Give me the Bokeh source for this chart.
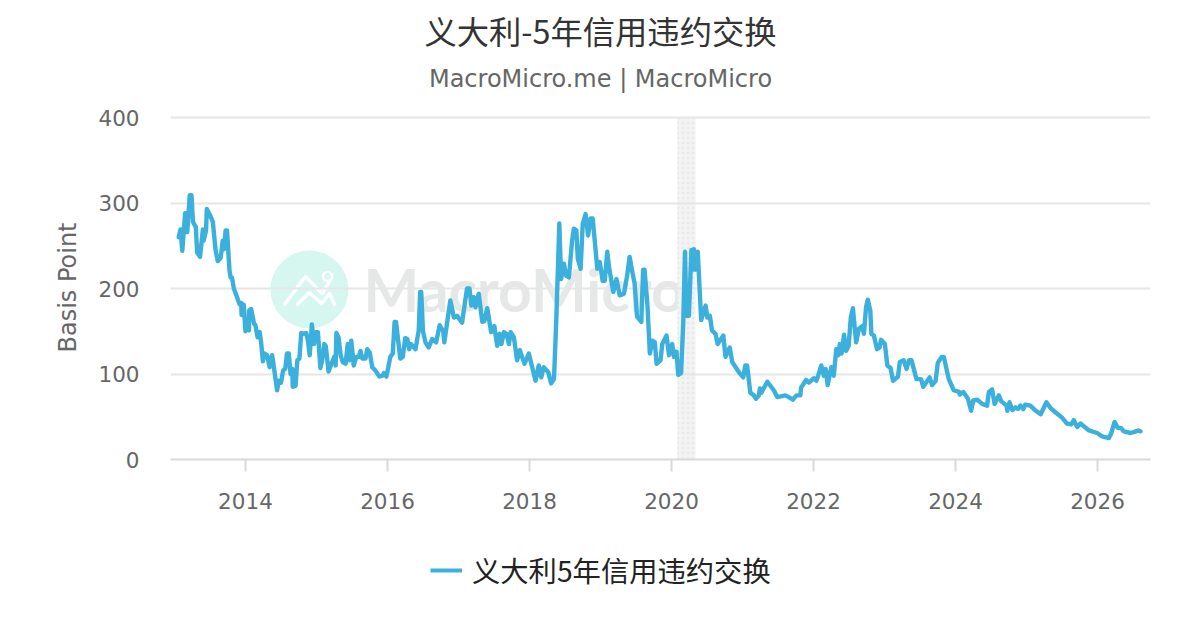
from bokeh.plotting import figure
from bokeh.embed import file_html
from bokeh.layouts import column
from bokeh.resources import INLINE
from bokeh.models import FixedTicker, Label, Legend, LegendItem, NumeralTickFormatter

title_text = "义大利-5年信用违约交换"
subtitle_text = "MacroMicro.me | MacroMicro"
watermark_text = "MacroMicro"
series_name = "义大利5年信用违约交换"
y_label = "Basis Point"
x_ticks = [2014, 2016, 2018, 2020, 2022, 2024, 2026]
y_ticks = [0, 100, 200, 300, 400]
recession_start = [2020.085]
recession_end = [2020.34]

years_2013 = [2013.06,2013.085,2013.11,2013.15,2013.18,2013.215,2013.24,2013.26,2013.30,2013.32,2013.36,2013.40,2013.41,2013.445,2013.455,2013.505,2013.54,2013.58,2013.61,2013.65,2013.68,2013.70,2013.72,2013.74,2013.775,2013.79,2013.81,2013.836,2013.88,2013.915,2013.94,2013.945,2013.975]
cds_2013 = [260,269,244,288,266,309,309,278,272,242,237,269,256,268,293,285,278,244,232,236,256,246,268,268,221,213,213,200,190,182,183,169,181]
years_2014 = [2014.0,2014.02,2014.05,2014.05,2014.08,2014.12,2014.14,2014.17,2014.20,2014.22,2014.245,2014.27,2014.305,2014.34,2014.375,2014.40,2014.445,2014.47,2014.50,2014.53,2014.56,2014.585,2014.61,2014.635,2014.66,2014.665,2014.705,2014.73,2014.76,2014.785,2014.82,2014.855,2014.88,2014.905,2014.935,2014.965,2014.99]
cds_2014 = [150,155,151,174,176,159,157,143,149,137,115,124,122,108,122,108,81,92,90,104,106,124,124,100,106,85,86,116,118,148,147,148,139,122,158,135,149]
years_2015 = [2015.02,2015.055,2015.08,2015.11,2015.13,2015.17,2015.22,2015.25,2015.27,2015.28,2015.31,2015.34,2015.37,2015.41,2015.44,2015.465,2015.49,2015.525,2015.56,2015.595,2015.62,2015.645,2015.69,2015.715,2015.75,2015.785,2015.83,2015.885,2015.93,2015.95,2015.985]
cds_2015 = [149,107,116,135,133,103,114,120,110,148,143,122,114,112,135,116,139,110,120,120,127,118,118,129,125,108,104,97,98,101,97]
years_2016 = [2016.04,2016.075,2016.10,2016.12,2016.18,2016.215,2016.25,2016.28,2016.305,2016.33,2016.395,2016.44,2016.46,2016.475,2016.50,2016.535,2016.58,2016.63,2016.685,2016.735,2016.785,2016.80,2016.885,2016.935,2016.98]
cds_2016 = [120,124,161,161,118,120,142,141,129,135,129,151,196,196,150,137,131,141,137,157,150,137,186,166,168]
years_2017 = [2017.05,2017.12,2017.155,2017.18,2017.215,2017.24,2017.285,2017.335,2017.365,2017.405,2017.46,2017.505,2017.545,2017.58,2017.605,2017.64,2017.675,2017.71,2017.735,2017.78,2017.825,2017.865,2017.895,2017.93,2017.99]
cds_2017 = [160,200,200,180,190,178,194,161,162,177,149,156,133,147,135,149,147,135,149,143,116,128,120,112,124]
years_2018 = [2018.085,2018.13,2018.165,2018.20,2018.265,2018.305,2018.345,2018.38,2018.42,2018.445,2018.485,2018.515,2018.555,2018.60,2018.625,2018.66,2018.68,2018.72,2018.75,2018.79,2018.825,2018.86,2018.89,2018.955,2018.99]
cds_2018 = [92,110,96,108,102,89,94,170,276,211,229,215,213,256,270,268,235,223,276,287,262,282,282,223,231]
years_2019 = [2019.03,2019.06,2019.095,2019.12,2019.18,2019.225,2019.27,2019.33,2019.375,2019.41,2019.445,2019.48,2019.515,2019.575,2019.60,2019.62,2019.66,2019.695,2019.73,2019.765,2019.79,2019.845,2019.87,2019.93,2019.965]
cds_2019 = [209,209,243,225,196,211,192,194,215,237,221,206,167,161,222,222,182,124,139,137,112,116,135,145,122]
years_2020 = [2020.01,2020.035,2020.07,2020.095,2020.135,2020.165,2020.19,2020.21,2020.245,2020.28,2020.30,2020.315,2020.335,2020.37,2020.418,2020.48,2020.505,2020.54,2020.57,2020.62,2020.65,2020.73,2020.76,2020.82,2020.855,2020.95]
cds_2020 = [135,120,126,99,101,159,243,168,168,245,222,246,222,243,163,180,166,168,151,147,135,145,120,131,114,102]
years_2021 = [2021.01,2021.04,2021.065,2021.11,2021.16,2021.19,2021.23,2021.245,2021.265,2021.35,2021.44,2021.49,2021.605,2021.65,2021.71,2021.76,2021.815,2021.825,2021.895,2021.935]
cds_2021 = [96,110,110,78,75,71,75,83,78,91,81,73,75,73,70,75,75,84,93,90]
years_2022 = [2022.005,2022.04,2022.065,2022.11,2022.145,2022.17,2022.20,2022.25,2022.285,2022.32,2022.35,2022.37,2022.395,2022.43,2022.46,2022.495,2022.525,2022.555,2022.60,2022.64,2022.685,2022.71,2022.74,2022.765,2022.80,2022.815,2022.85,2022.895,2022.93,2022.95]
cds_2022 = [95,92,98,110,98,106,87,108,98,129,122,135,124,146,127,133,166,177,137,153,156,147,178,187,174,147,145,129,131,140]
years_2023 = [2023.005,2023.04,2023.085,2023.12,2023.19,2023.215,2023.27,2023.31,2023.345,2023.38,2023.45,2023.515,2023.545,2023.635,2023.67,2023.72,2023.75,2023.805,2023.835,2023.905,2023.975]
cds_2023 = [135,110,107,92,97,114,116,106,116,116,94,94,85,96,87,92,113,120,120,94,81]
years_2024 = [2024.05,2024.06,2024.11,2024.175,2024.22,2024.25,2024.305,2024.375,2024.445,2024.47,2024.515,2024.55,2024.61,2024.645,2024.72,2024.73,2024.76,2024.80,2024.845,2024.88,2024.915,2024.955,2024.98]
cds_2024 = [79,76,79,71,57,69,70,65,63,79,82,65,75,68,63,57,67,58,61,59,63,59,64]
years_2025 = [2025.055,2025.115,2025.20,2025.28,2025.34,2025.41,2025.50,2025.57,2025.63,2025.665,2025.715,2025.76,2025.88,2025.995]
cds_2025 = [63,58,53,67,60,55,49,42,41,46,38,42,34,31]
years_2026 = [2026.065,2026.16,2026.19,2026.24,2026.285,2026.33,2026.37,2026.465,2026.51,2026.57,2026.605]
cds_2026 = [27,25,30,44,37,37,33,31,32,34,33]

years = (years_2013 + years_2014 + years_2015 + years_2016 + years_2017 + years_2018 + years_2019
         + years_2020 + years_2021 + years_2022 + years_2023 + years_2024 + years_2025 + years_2026)
cds = (cds_2013 + cds_2014 + cds_2015 + cds_2016 + cds_2017 + cds_2018 + cds_2019
       + cds_2020 + cds_2021 + cds_2022 + cds_2023 + cds_2024 + cds_2025 + cds_2026)

CJK = "Noto Sans CJK SC"
LATIN = "DejaVu Sans"
W, H_TOP, H_MAIN, H_LEG = 1184, 100, 440, 74
F_L, F_R = 170, 1150  # frame edges in page pixels
LINE_COLOR = "#3bb0dc"

# strip holding title and subtitle
top = figure(width=W, height=H_TOP, output_backend="svg", toolbar_location=None,
             x_range=(F_L, F_R), y_range=(H_TOP, 0), min_border_left=F_L, min_border_right=W - F_R,
             min_border_top=0, min_border_bottom=0, x_axis_location=None, y_axis_location=None)
top.outline_line_color = None
top.grid.visible = False
top.add_layout(Label(x=600, y=29, text=title_text, text_font=CJK, text_font_size="32.3px", text_color="#333333",
                     text_align="center", text_baseline="middle"))
top.add_layout(Label(x=600, y=78, text=subtitle_text, text_font=LATIN, text_font_size="24px", text_color="#666666",
                     text_align="center", text_baseline="middle"))

# main chart: the frame reaches a little above 400 so that the top grid line is whole
p = figure(width=W, height=H_MAIN, output_backend="svg", toolbar_location=None,
           x_range=(2012.944, 2026.746), y_range=(0, 402.34),
           min_border_left=F_L, min_border_right=W - F_R, min_border_top=15, min_border_bottom=81)
p.outline_line_color = None
p.background_fill_color = "#ffffff"


def px_x(px):
    return 2014 + (px - 245) / 71


def px_y(py):
    return (459 - py) / 0.855


# watermark, under the grid
p.scatter([px_x(309)], [px_y(289)], size=78, marker="circle", fill_color="#d5f7f0", line_color=None, level="image")
logo_a = [(284, 304), (305, 276), (322, 293), (330, 279)]
logo_b = [(297, 304), (309, 292), (321, 303), (329, 293), (334, 304)]
for path in (logo_a, logo_b):
    p.line([px_x(a) for a, _ in path], [px_y(b) for _, b in path], line_color="#ffffff", line_width=3.5,
           line_cap="round", line_join="round", level="image")
p.scatter([px_x(327)], [px_y(276)], size=9, marker="circle", fill_color="#d5f7f0", line_color="#ffffff", line_width=2.5, level="image")
p.add_layout(Label(x=px_x(363), y=px_y(289), text=watermark_text, text_font="Lato", text_font_size="59px",
                   text_font_style="bold", text_color="#e6e7e7", text_baseline="alphabetic", level="image"))

# recession band
p.quad(left=recession_start, right=recession_end, bottom=[0], top=[400], fill_color="#f3f3f3", line_color=None,
       hatch_pattern="dot", hatch_color="#e8e8e8", hatch_scale=5, hatch_weight=0.5, level="underlay")

p.line(years, cds, line_color=LINE_COLOR, line_width=4.4, line_join="round", line_cap="round")

# axes
p.xaxis.ticker = FixedTicker(ticks=x_ticks)
p.xaxis.formatter = NumeralTickFormatter(format="0")
p.xaxis.axis_line_color = "#d9d9d9"
p.xaxis.axis_line_width = 2
p.xaxis.major_tick_line_color = "#d9d9d9"
p.xaxis.major_tick_line_width = 2
p.xaxis.major_tick_in = 0
p.xaxis.major_tick_out = 12
p.xaxis.minor_tick_line_color = None
p.xaxis.major_label_standoff = 21
p.xaxis.major_label_text_font = LATIN
p.xaxis.major_label_text_font_size = "21.5px"
p.xaxis.major_label_text_color = "#666666"

p.yaxis.ticker = FixedTicker(ticks=y_ticks)
p.yaxis.axis_line_color = None
p.yaxis.major_tick_line_color = None
p.yaxis.minor_tick_line_color = None
p.yaxis.major_tick_in = 0
p.yaxis.major_tick_out = 0
p.yaxis.major_label_standoff = 31
p.yaxis.major_label_text_font = LATIN
p.yaxis.major_label_text_font_size = "21.5px"
p.yaxis.major_label_text_color = "#666666"
p.yaxis.axis_label = y_label
p.yaxis.axis_label_text_font = LATIN
p.yaxis.axis_label_text_font_style = "normal"
p.yaxis.axis_label_text_font_size = "24px"
p.yaxis.axis_label_text_color = "#666666"
p.yaxis.axis_label_standoff = 13

p.xgrid.grid_line_color = None
p.ygrid.grid_line_color = "#e6e6e6"
p.ygrid.grid_line_width = 2

# legend in its own strip under the chart
leg = figure(width=W, height=H_LEG, output_backend="svg", toolbar_location=None,
             x_range=(0, 1), y_range=(0, 1), min_border_left=F_L, min_border_right=W - F_R,
             min_border_top=0, min_border_bottom=0, x_axis_location=None, y_axis_location=None)
leg.outline_line_color = None
leg.grid.visible = False
key = leg.line([0], [0], line_color=LINE_COLOR, line_width=4)
legend = Legend(items=[LegendItem(label=series_name, renderers=[key])], location=(260, 24),
                border_line_color=None, background_fill_alpha=0, glyph_width=32, glyph_height=28,
                label_text_font=CJK, label_text_font_size="28.3px", label_text_color="#222222",
                label_standoff=10, padding=0, margin=0)
leg.add_layout(legend, "center")

page = column(top, p, leg, spacing=0)
open("out.html", "w").write(file_html(page, INLINE))
